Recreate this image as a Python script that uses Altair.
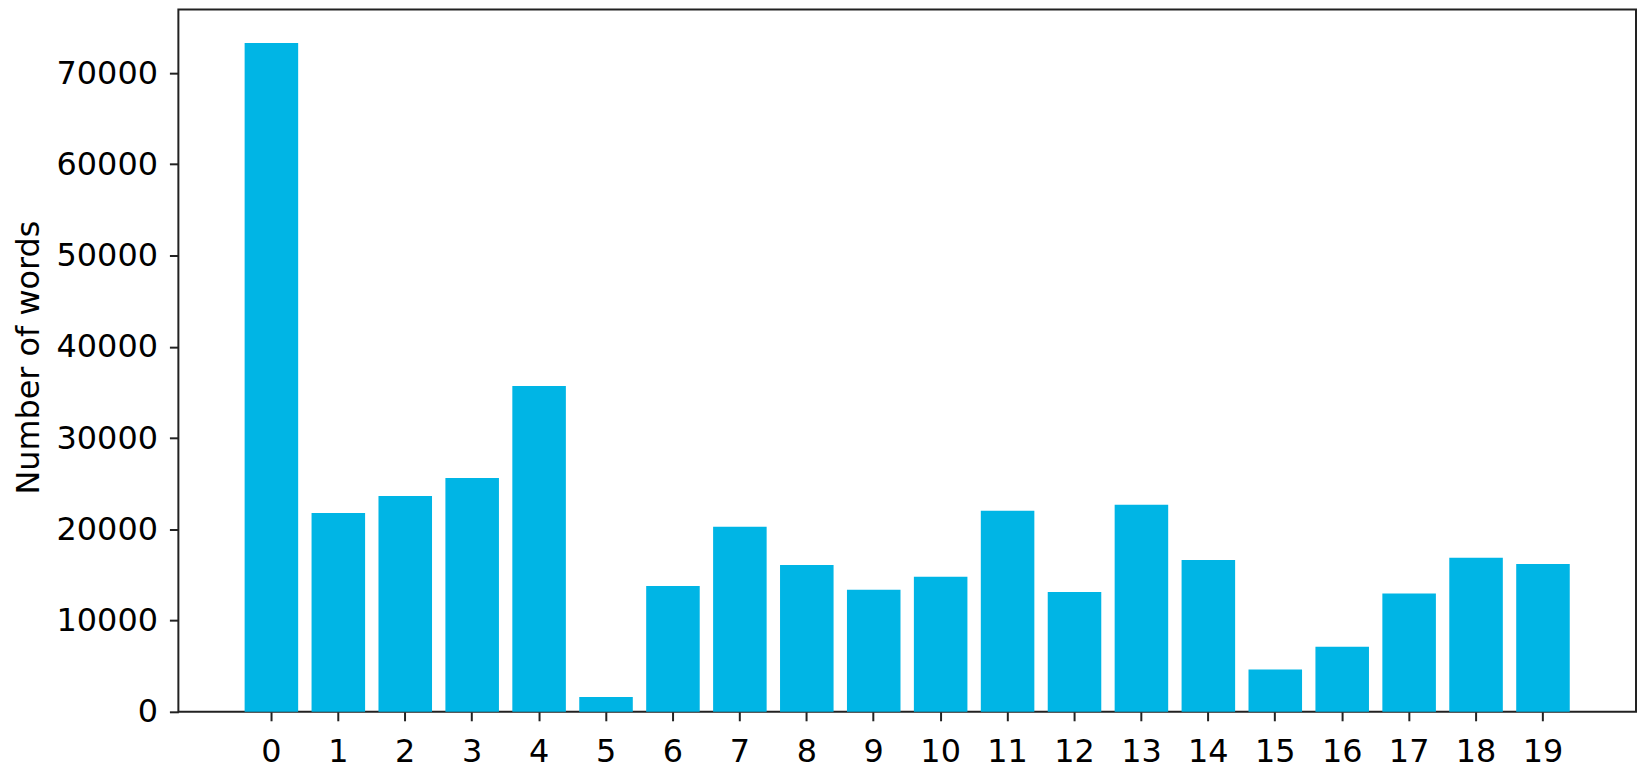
import altair as alt
import pandas as pd

topics = [str(i) for i in range(20)]
words = [73300, 21780, 23660, 25610, 35700, 1610, 13780, 20270, 16100, 13390,
         14800, 22040, 13130, 22690, 16640, 4640, 7120, 12960, 16890, 16200]
y_ticks = [0, 10000, 20000, 30000, 40000, 50000, 60000, 70000]

df = pd.DataFrame({"topic": topics, "words": words})

FONT = "DejaVu Sans"

chart = alt.Chart(df).mark_bar(color="#00b5e5").encode(
    x=alt.X(
        "topic:O",
        sort=topics,
        scale=alt.Scale(paddingInner=0.2, paddingOuter=0.99),
        axis=alt.Axis(
            title=None, labelAngle=0, labelFontSize=32, labelFont=FONT,
            labelColor="black", tickSize=9, tickWidth=2, tickColor="#222",
            labelPadding=16, domain=False,
        ),
    ),
    y=alt.Y(
        "words:Q",
        scale=alt.Scale(domain=[0, 76976], nice=False, zero=True),
        axis=alt.Axis(
            title="Number of words", values=y_ticks, format="d", grid=False,
            labelFontSize=32, labelFont=FONT, labelColor="black",
            tickSize=9, tickWidth=2, tickColor="#222", labelPadding=12,
            domain=False,
            titleFontSize=32, titleFont=FONT, titleFontWeight="normal",
            titleColor="black", titleAngle=270, titleX=-140, titleY=349,
            titleAlign="center", titleBaseline="alphabetic",
        ),
    ),
).properties(
    width=1463,
    height=705,
    autosize=alt.AutoSizeParams(type="none"),
    padding={"left": 171, "top": 0, "right": 2, "bottom": 58},
).configure_view(
    stroke="#222", strokeWidth=2
)

chart.save("out.html", embed_options={"renderer": "svg", "actions": False})
